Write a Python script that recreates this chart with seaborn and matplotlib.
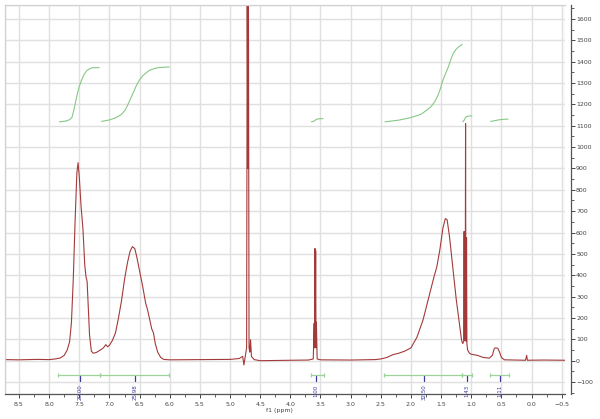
import numpy as np
import pandas as pd
import matplotlib
matplotlib.use("Agg")
import matplotlib.pyplot as plt
import seaborn as sns
from matplotlib.patches import Rectangle
from matplotlib.ticker import MultipleLocator

# spectrum trace (ppm, intensity)
spec_ppm = [8.73, 8.5, 8.2, 8.0, 7.9, 7.82, 7.75, 7.7, 7.66, 7.63, 7.6, 7.57, 7.54, 7.52,
            7.5, 7.47, 7.44, 7.41, 7.39, 7.37, 7.35, 7.33, 7.3, 7.27, 7.22, 7.15, 7.1,
            7.06, 7.03, 7.0, 6.95, 6.9, 6.85, 6.8, 6.75, 6.7, 6.66, 6.62, 6.58, 6.55,
            6.5, 6.45, 6.4, 6.37, 6.33, 6.3, 6.27, 6.24, 6.2, 6.15, 6.1, 6.0, 5.5, 5.0,
            4.85, 4.79, 4.77, 4.75, 4.725, 4.715, 4.705, 4.695, 4.685, 4.672, 4.66, 4.645,
            4.6, 4.5, 4.0, 3.7, 3.62, 3.605, 3.6, 3.592, 3.587, 3.58, 3.574, 3.568, 3.555,
            3.5, 3.0, 2.6, 2.5, 2.4, 2.3, 2.2, 2.1, 2.0, 1.9, 1.8, 1.7, 1.62, 1.57, 1.52,
            1.47, 1.43, 1.4, 1.36, 1.3, 1.25, 1.2, 1.16, 1.14, 1.125, 1.118, 1.112, 1.1,
            1.094, 1.088, 1.082, 1.078, 1.072, 1.06, 1.03, 1.0, 0.9, 0.8, 0.7, 0.65,
            0.62, 0.6, 0.56, 0.53, 0.5, 0.45, 0.3, 0.1, 0.08, 0.07, -0.2, -0.55]
spec_int = [5, 4, 6, 5, 8, 12, 25, 50, 90, 180, 380, 650, 880, 927,
            860, 720, 620, 450, 395, 370, 250, 120, 45, 35, 38, 50, 60,
            75, 65, 72, 95, 130, 200, 280, 380, 460, 510, 534, 525, 490,
            420, 350, 270, 240, 190, 150, 130, 80, 40, 15, 6, 4, 5, 6,
            10, 20, -20, 15, 60, 1750, 900, 1750, 60, 40, 98, 20,
            5, 0, 2, 3, 8, 175, 60, 525, 80, 515, 60, 180, 8,
            4, 3, 5, 8, 15, 28, 35, 45, 60, 110, 190, 300, 390, 440, 520,
            620, 665, 660, 580, 420, 290, 180, 95, 80, 90, 605, 95, 100,
            1110, 95, 90, 575, 80, 50, 35, 30, 25, 15, 12, 25,
            55, 60, 58, 40, 15, 4, 3, 2, 25, 2, 3, 2]

# integral curves (ppm, value on the intensity scale)
int_curves = [
    ([7.83, 7.72, 7.66, 7.62, 7.58, 7.54, 7.5, 7.46, 7.42, 7.38, 7.33, 7.29, 7.17],
     [1118, 1122, 1128, 1140, 1185, 1240, 1285, 1315, 1340, 1357, 1366, 1371, 1372]),
    ([7.13, 7.0, 6.88, 6.8, 6.74, 6.7, 6.66, 6.6, 6.55, 6.5, 6.44, 6.38, 6.33, 6.25, 6.19, 6.01],
     [1120, 1127, 1139, 1153, 1173, 1195, 1220, 1258, 1290, 1315, 1336, 1350, 1360, 1368, 1372, 1375]),
    ([3.65, 3.6, 3.57, 3.5, 3.46],
     [1118, 1122, 1130, 1133, 1133]),
    ([2.43, 2.2, 2.02, 1.9, 1.83, 1.75, 1.66, 1.6, 1.55, 1.51, 1.47, 1.42, 1.38, 1.34, 1.3, 1.25, 1.21, 1.15],
     [1118, 1126, 1137, 1147, 1154, 1170, 1191, 1215, 1243, 1275, 1313, 1348, 1375, 1408, 1438, 1458, 1469, 1481]),
    ([1.14, 1.12, 1.1, 1.08, 1.04, 0.99],
     [1118, 1125, 1135, 1143, 1145, 1146]),
    ([0.68, 0.6, 0.53, 0.45, 0.39],
     [1120, 1124, 1128, 1130, 1131]),
]

# integration ranges and labels
range_start = [7.85, 7.16, 3.65, 2.44, 1.15, 0.69]
range_end = [7.16, 6.01, 3.45, 1.15, 0.98, 0.38]
label_ppm = [7.49, 6.58, 3.57, 1.79, 1.07, 0.53]
label_text = ["20.00", "25.98", "1.00", "32.50", "1.43", "1.11"]

sns.set_style("white")
plt.rcParams['font.family'] = ['DejaVu Sans']

fig = plt.figure(figsize=(6, 4.19), dpi=100)
ax = fig.add_axes([5 / 600, 25 / 419, 560 / 600, 389 / 419])

spec = pd.DataFrame({"ppm": spec_ppm, "intensity": spec_int})
sns.lineplot(data=spec, x="ppm", y="intensity", sort=False, estimator=None,
             color="#a33a3a", lw=0.8, ax=ax)

for xs, ys in int_curves:
    sns.lineplot(x=xs, y=ys, sort=False, estimator=None, color="#86c886", lw=0.8, ax=ax)

bar_y = -69
for a, b in zip(range_start, range_end):
    ax.plot([a, b], [bar_y, bar_y], color="#9bd39b", lw=0.9, clip_on=False)
    ax.plot([a, b], [bar_y, bar_y], ls="none", marker="|", ms=3, mew=0.9,
            color="#9bd39b", clip_on=False)
for p, t in zip(label_ppm, label_text):
    ax.plot([p, p], [-72, -97], color="#3a3aa0", lw=0.9)
    ax.text(p, -112, t, rotation=90, ha="center", va="top", fontsize=4,
            color="#3a3aa0", clip_on=False)

ax.set_xlim(8.732, -0.555)
ax.set_ylim(-156, 1665)

ax.xaxis.set_major_locator(MultipleLocator(0.5))
ax.xaxis.set_minor_locator(MultipleLocator(0.25))
ax.yaxis.set_major_locator(MultipleLocator(100))
ax.yaxis.set_minor_locator(MultipleLocator(50))
ax.grid(True, which="major", color="#e0e0e0", lw=1)
ax.set_axisbelow(True)

ax.yaxis.tick_right()
ax.spines['left'].set_color("#d0d0d0")
ax.spines['top'].set_color("#d0d0d0")
ax.spines['right'].set_position(('outward', 4))
ax.spines['right'].set_color("#555555")
ax.spines['bottom'].set_color("#555555")
for s in ax.spines.values():
    s.set_linewidth(0.9)
ax.add_patch(Rectangle((0, 0), 1, 1, transform=ax.transAxes, fill=False,
                       ec="#d0d0d0", lw=0.9, zorder=0.5))

ax.tick_params(axis="x", which="major", direction="out", length=3, width=0.7,
               labelsize=4.5, colors="#444444", pad=3, bottom=True)
ax.tick_params(axis="x", which="minor", direction="out", length=2, width=0.6,
               colors="#444444", bottom=True)
ax.tick_params(axis="y", which="major", direction="out", length=3, width=0.7,
               labelsize=4.5, colors="#444444", pad=1, right=True, left=False)
ax.tick_params(axis="y", which="minor", direction="out", length=2, width=0.6,
               colors="#444444", right=True, left=False)
ax.set_ylabel("")
ax.set_xlabel("f1 (ppm)", fontsize=4.5, color="#444444", labelpad=1)
ax.xaxis.set_label_coords(0.49, -0.035)

fig.savefig("out.png", dpi=100)
